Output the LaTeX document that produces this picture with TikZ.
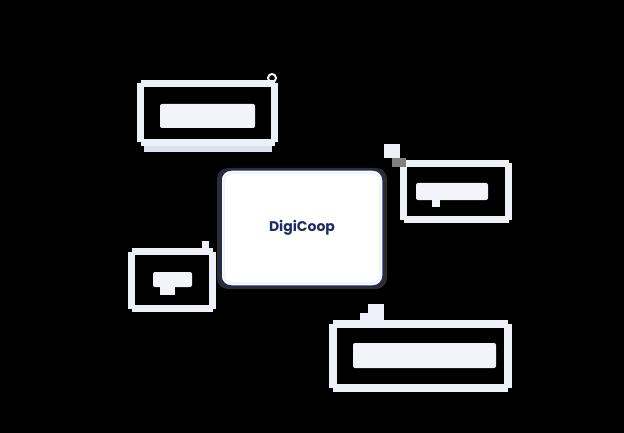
\documentclass[tikz,border=0pt]{standalone}
\usepackage{fontspec}
\newfontfamily\poppins{Poppins}
\usetikzlibrary{positioning}

\definecolor{navy}{HTML}{1E2C63}
\definecolor{framecol}{HTML}{EEF0F7}
\definecolor{barcol}{HTML}{F3F4F9}
\definecolor{shadecol}{HTML}{DDE0F0}
\definecolor{tintcol}{HTML}{EDF1FA}

\begin{document}
\begin{tikzpicture}[x=1pt,y=-1pt]
\fill[black] (0,0) rectangle (624,433);

% top left badge
\draw[framecol,line width=7] (140.5,83.5)--(274.5,83.5) (274.5,83.5)--(274.5,142.5) (274.5,142.5)--(140.5,142.5) (140.5,142.5)--(140.5,83.5);
\fill[shadecol] (144,146) rectangle (272,152);
\fill[barcol,rounded corners=2] (160,104) rectangle (255,128);
\draw[framecol,line width=2] (272,78) circle[radius=4];

% right badge
\draw[framecol,line width=7] (403.5,163.5)--(508.5,163.5) (508.5,163.5)--(508.5,219.5) (508.5,219.5)--(403.5,219.5) (403.5,219.5)--(403.5,163.5);
\fill[barcol,rounded corners=2] (416,183) rectangle (488,200);
\fill[barcol] (432,200) rectangle (440,207);
\fill[framecol] (384,144) rectangle (400,158);
\fill[gray] (392,158) rectangle (406,167);

% left badge
\draw[framecol,line width=7] (131.5,251.5)--(212.5,251.5) (212.5,251.5)--(212.5,308.5) (212.5,308.5)--(131.5,308.5) (131.5,308.5)--(131.5,251.5);
\fill[barcol,rounded corners=2] (153,272) rectangle (192,287);
\fill[barcol] (160,287) rectangle (175,295);
\fill[framecol] (202,241) rectangle (209,248);

% bottom badge
\draw[framecol,line width=8] (333,324)--(508,324) (508,324)--(508,388) (508,388)--(333,388) (333,388)--(333,324);
\fill[barcol,rounded corners=2] (353,343) rectangle (496,368);
\fill[framecol] (368,304) rectangle (384,313);
\fill[framecol] (360,313) rectangle (384,320);

% centre
\fill[gray!35!black,rounded corners=11] (217,168) rectangle (387,289);
\node[draw=navy,line width=1.5,fill=white,rounded corners=10,minimum width=162,minimum height=116,
      text=navy,font=\poppins\bfseries\fontsize{14}{16}\selectfont] (digicoop) at (302,228) {DigiCoop};
\draw[tintcol,line width=1.5,rounded corners=8] (224,173) rectangle (380,283);

\end{tikzpicture}
\end{document}
